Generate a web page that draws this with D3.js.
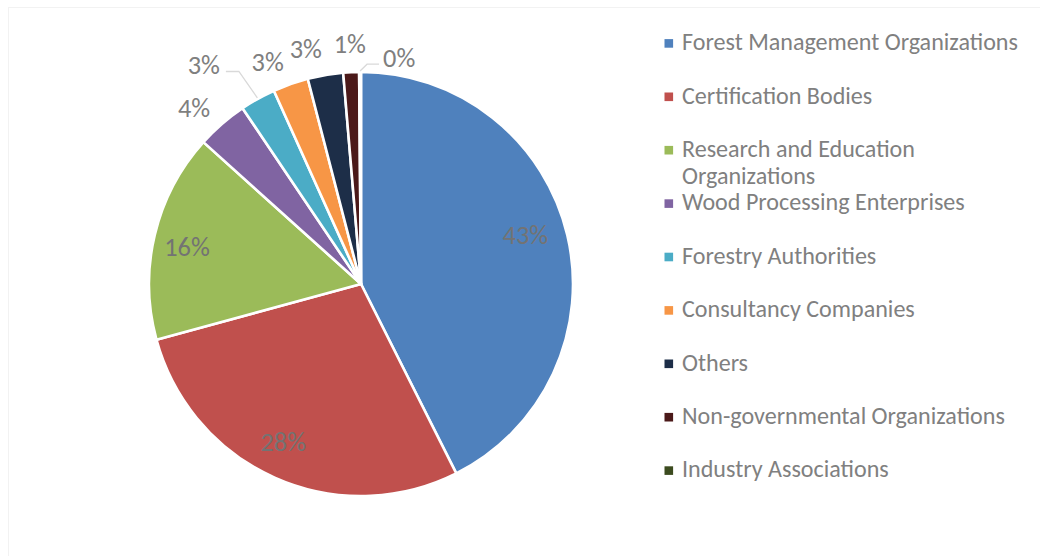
<!DOCTYPE html>
<html>
<head>
<meta charset="utf-8">
<script src="https://cdn.jsdelivr.net/npm/d3@7"></script>
<style>
  html, body { margin: 0; padding: 0; background: #fff; }
  svg { display: block; }
</style>
</head>
<body>
<svg id="chart" width="1040" height="556"></svg>
<script>
// ---- data ----
const categories = [
  "Forest Management Organizations",
  "Certification Bodies",
  "Research and Education Organizations",
  "Wood Processing Enterprises",
  "Forestry Authorities",
  "Consultancy Companies",
  "Others",
  "Non-governmental Organizations",
  "Industry Associations"
];
const values = [42.6, 28.2, 15.9, 3.9, 2.7, 2.7, 2.7, 1.2, 0.14];
const colors = ["#4f81bd", "#c0504d", "#9bbb59", "#8064a2", "#4bacc6",
                "#f79646", "#1d2e48", "#4b1919", "#3c4b1f"];

// ---- layout ----
const W = 1040, H = 556;
const cx = 361, cy = 284, R = 212;
const FONT = "Carlito, Calibri, Lato, 'Open Sans', sans-serif";
// label placement: [angle shift (deg) from slice middle, distance from centre]
const labelLayout = [
  [-3.3, 171.6], [2.2, 176], [-1.2, 178], [-2.4, 243], [-6.5, 270],
  [-3.4, 241], [-3.5, 242], [0, 241], [9.8, 230]
];

const svg = d3.select("#chart");

// faint chart-area border
svg.append("rect")
  .attr("x", 8.5).attr("y", 7.5)
  .attr("width", W + 10).attr("height", H + 10)
  .attr("fill", "none").attr("stroke", "#f2f2f2").attr("stroke-width", 1);

const total = d3.sum(values);
const pie = d3.pie().sort(null).value(d => d);
const arcs = pie(values);
const arc = d3.arc().innerRadius(0).outerRadius(R);

const g = svg.append("g").attr("transform", `translate(${cx},${cy})`);

g.selectAll("path.slice")
  .data(arcs)
  .join("path")
  .attr("class", "slice")
  .attr("d", arc)
  .attr("fill", (d, i) => colors[i])
  .attr("stroke", "#ffffff")
  .attr("stroke-width", 2.6)
  .attr("stroke-linejoin", "round");

// helper: fit font size to target width
function fitSize(text, targetWidth, family) {
  const t = svg.append("text").attr("font-family", family).attr("font-size", 100).text(text);
  const w = t.node().getComputedTextLength();
  t.remove();
  return 100 * targetWidth / w;
}

const labelSize = fitSize("43%", 45.6, FONT);
const legendSize = fitSize(categories[0], 336, FONT);

function polar(angleDeg, r) {
  const a = angleDeg * Math.PI / 180;
  return [Math.sin(a) * r, -Math.cos(a) * r];
}

// percentage labels
const labelData = arcs.map((d, i) => {
  const mid = (d.startAngle + d.endAngle) / 2 * 180 / Math.PI;
  const [shift, r] = labelLayout[i];
  const [x, y] = polar(mid + shift, r);
  return { i, mid, x, y, inside: r < R, text: Math.round(d.value / total * 100) + "%" };
});

const labels = g.selectAll("text.pct")
  .data(labelData)
  .join("text")
  .attr("class", "pct")
  .attr("x", d => d.x)
  .attr("y", d => d.y)
  .attr("dy", "0.36em")
  .attr("text-anchor", "middle")
  .attr("font-family", FONT)
  .attr("font-size", labelSize)
  .attr("fill", d => d.inside ? "#737373" : "#7f7f7f")
  .text(d => d.text);

// leader lines for labels that were displaced from their slice
labelData.forEach((d, idx) => {
  const [shift, r] = labelLayout[d.i];
  if (Math.abs(shift) < 5 || d.inside) return;
  const node = labels.nodes()[idx];
  const w = node.getComputedTextLength();
  const [ax, ay] = polar(d.mid, R + 1);
  let sx, hy = d.y + 7, ex;
  if (ax > d.x) { sx = d.x + w / 2 + 6; ex = sx + 13; }
  else { sx = d.x - w / 2 - 4; ex = sx - 12; }
  g.append("polyline")
    .attr("points", `${sx},${hy} ${ex},${hy} ${ax},${ay}`)
    .attr("fill", "none")
    .attr("stroke", "#d9d9d9")
    .attr("stroke-width", 1.3);
});

// legend
const legX = 664.5, legY0 = 43.4, legStep = 53.4, maxW = 352;
const leg = svg.append("g");
categories.forEach((c, i) => {
  const yc = legY0 + i * legStep;
  leg.append("rect")
    .attr("x", legX).attr("y", yc - 4.3)
    .attr("width", 8.6).attr("height", 8.6)
    .attr("fill", colors[i]);
  const t = leg.append("text")
    .attr("x", 682).attr("y", yc + 6.8)
    .attr("font-family", FONT)
    .attr("font-size", legendSize)
    .attr("fill", "#808080");
  const words = c.split(" ");
  let line = [];
  let tspan = t.append("tspan").attr("x", 682).attr("dy", 0);
  words.forEach(wd => {
    line.push(wd);
    tspan.text(line.join(" "));
    if (tspan.node().getComputedTextLength() > maxW && line.length > 1) {
      line.pop();
      tspan.text(line.join(" "));
      line = [wd];
      tspan = t.append("tspan").attr("x", 682).attr("dy", "1.12em").text(wd);
    }
  });
});
</script>
</body>
</html>
